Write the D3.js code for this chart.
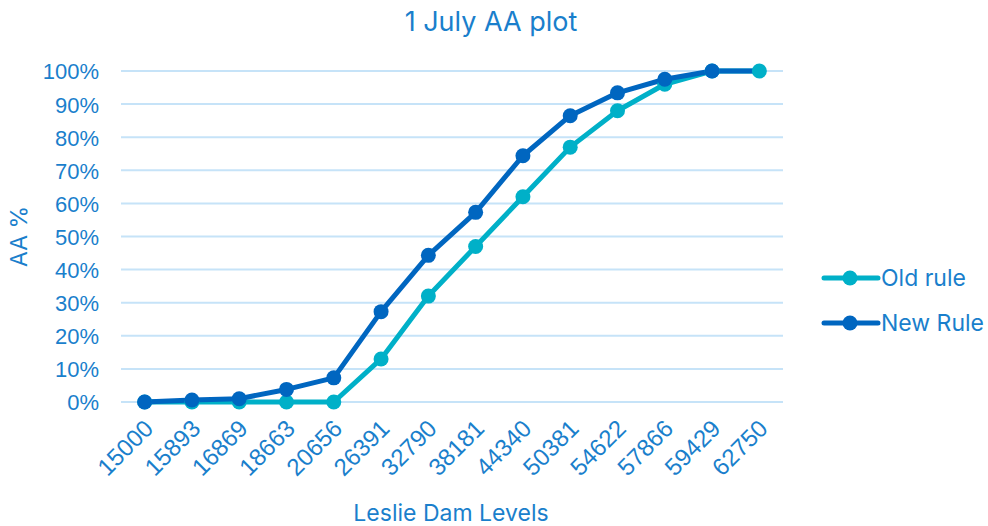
<!DOCTYPE html>
<html>
<head>
<meta charset="utf-8">
<script src="https://cdn.jsdelivr.net/npm/d3@7"></script>
<style>
  body { margin: 0; background: #fff; }
  svg { display: block; font-family: Inter, "Noto Sans", sans-serif; }
</style>
</head>
<body>
<div id="chart"></div>
<script>
// Chart data
const levels = ["15000", "15893", "16869", "18663", "20656", "26391", "32790", "38181",
  "44340", "50381", "54622", "57866", "59429", "62750"];
const oldRule = [0, 0, 0, 0, 0, 13, 32, 47, 62, 77, 88, 96, 100, 100];
const newRule = [0, 0.6, 1, 3.8, 7.3, 27.3, 44.3, 57.3, 74.4, 86.5, 93.4, 97.5, 100, 100];
const yTicks = [0, 10, 20, 30, 40, 50, 60, 70, 80, 90, 100];

const width = 988, height = 526;
const margin = { top: 71, right: 205, bottom: 124, left: 121 };
const textColor = "#1a7fcc";
const oldColor = "#00b0c8";
const newColor = "#0066c0";

const svg = d3.select("#chart").append("svg")
  .attr("width", width)
  .attr("height", height)

const x = d3.scaleBand()
  .domain(levels)
  .range([margin.left, width - margin.right])

const y = d3.scaleLinear()
  .domain([0, 100])
  .range([height - margin.bottom, margin.top])

// Gridlines
svg.append("g")
  .selectAll("line")
  .data(yTicks)
  .join("line")
  .attr("x1", margin.left)
  .attr("x2", width - margin.right)
  .attr("y1", d => y(d))
  .attr("y2", d => y(d))
  .attr("stroke", "#c6e3f8")
  .attr("stroke-width", 2)

// Y axis labels
const yAxis = svg.append("g")
  .attr("transform", `translate(${margin.left - 22},0)`)
  .call(d3.axisLeft(y).tickValues(yTicks).tickFormat(d => d + "%").tickSize(0))
yAxis.select(".domain").remove()
yAxis.selectAll("text")
  .attr("fill", textColor)
  .style("font-size", "22px")
  .attr("x", 0)
  .attr("dy", "0.36em")

// X axis labels
const xAxis = svg.append("g")
  .attr("transform", `translate(0,${height - margin.bottom + 22})`)
  .call(d3.axisBottom(x).tickSize(0))
xAxis.select(".domain").remove()
xAxis.selectAll("text")
  .attr("fill", textColor)
  .style("font-size", "24px")
  .attr("text-anchor", "end")
  .attr("y", 0)
  .attr("dy", "0.35em")
  .attr("transform", "translate(4,0) rotate(-45)")

// Titles
svg.append("text")
  .attr("x", 491)
  .attr("y", 31)
  .attr("text-anchor", "middle")
  .attr("fill", textColor)
  .style("font-size", "27px")
  .text("1 July AA plot")

svg.append("text")
  .attr("x", 451)
  .attr("y", 521)
  .attr("text-anchor", "middle")
  .attr("fill", textColor)
  .style("font-size", "23px")
  .text("Leslie Dam Levels")

svg.append("text")
  .attr("transform", `translate(27,${y(50)}) rotate(-90)`)
  .attr("text-anchor", "middle")
  .attr("fill", textColor)
  .style("font-size", "23px")
  .text("AA %")

const line = d3.line()
  .x((d, i) => x(levels[i]) + x.bandwidth() / 2)
  .y(d => y(d))

// Lines first, then markers (new rule has no marker on the last point)
svg.append("path")
  .attr("d", line(oldRule))
  .attr("fill", "none")
  .attr("stroke", oldColor)
  .attr("stroke-width", 5)
  .attr("stroke-linejoin", "round")

svg.append("path")
  .attr("d", line(newRule))
  .attr("fill", "none")
  .attr("stroke", newColor)
  .attr("stroke-width", 5)
  .attr("stroke-linejoin", "round")

svg.append("g")
  .selectAll("circle")
  .data(oldRule)
  .join("circle")
  .attr("cx", (d, i) => x(levels[i]) + x.bandwidth() / 2)
  .attr("cy", d => y(d))
  .attr("r", 7.5)
  .attr("fill", oldColor)

svg.append("g")
  .selectAll("circle")
  .data(newRule.slice(0, newRule.length - 1))
  .join("circle")
  .attr("cx", (d, i) => x(levels[i]) + x.bandwidth() / 2)
  .attr("cy", d => y(d))
  .attr("r", 7.5)
  .attr("fill", newColor)

// Legend
const legend = svg.append("g")
  .selectAll("g")
  .data([{ name: "Old rule", color: oldColor }, { name: "New Rule", color: newColor }])
  .join("g")
  .attr("transform", (d, i) => `translate(822,${278 + i * 45})`)

legend.append("line")
  .attr("x1", 2)
  .attr("x2", 56)
  .attr("stroke", d => d.color)
  .attr("stroke-width", 5)
  .attr("stroke-linecap", "round")

legend.append("circle")
  .attr("cx", 28)
  .attr("r", 7.5)
  .attr("fill", d => d.color)

legend.append("text")
  .attr("x", 59)
  .attr("dy", "0.36em")
  .attr("fill", textColor)
  .style("font-size", "23px")
  .text(d => d.name)
</script>
</body>
</html>
